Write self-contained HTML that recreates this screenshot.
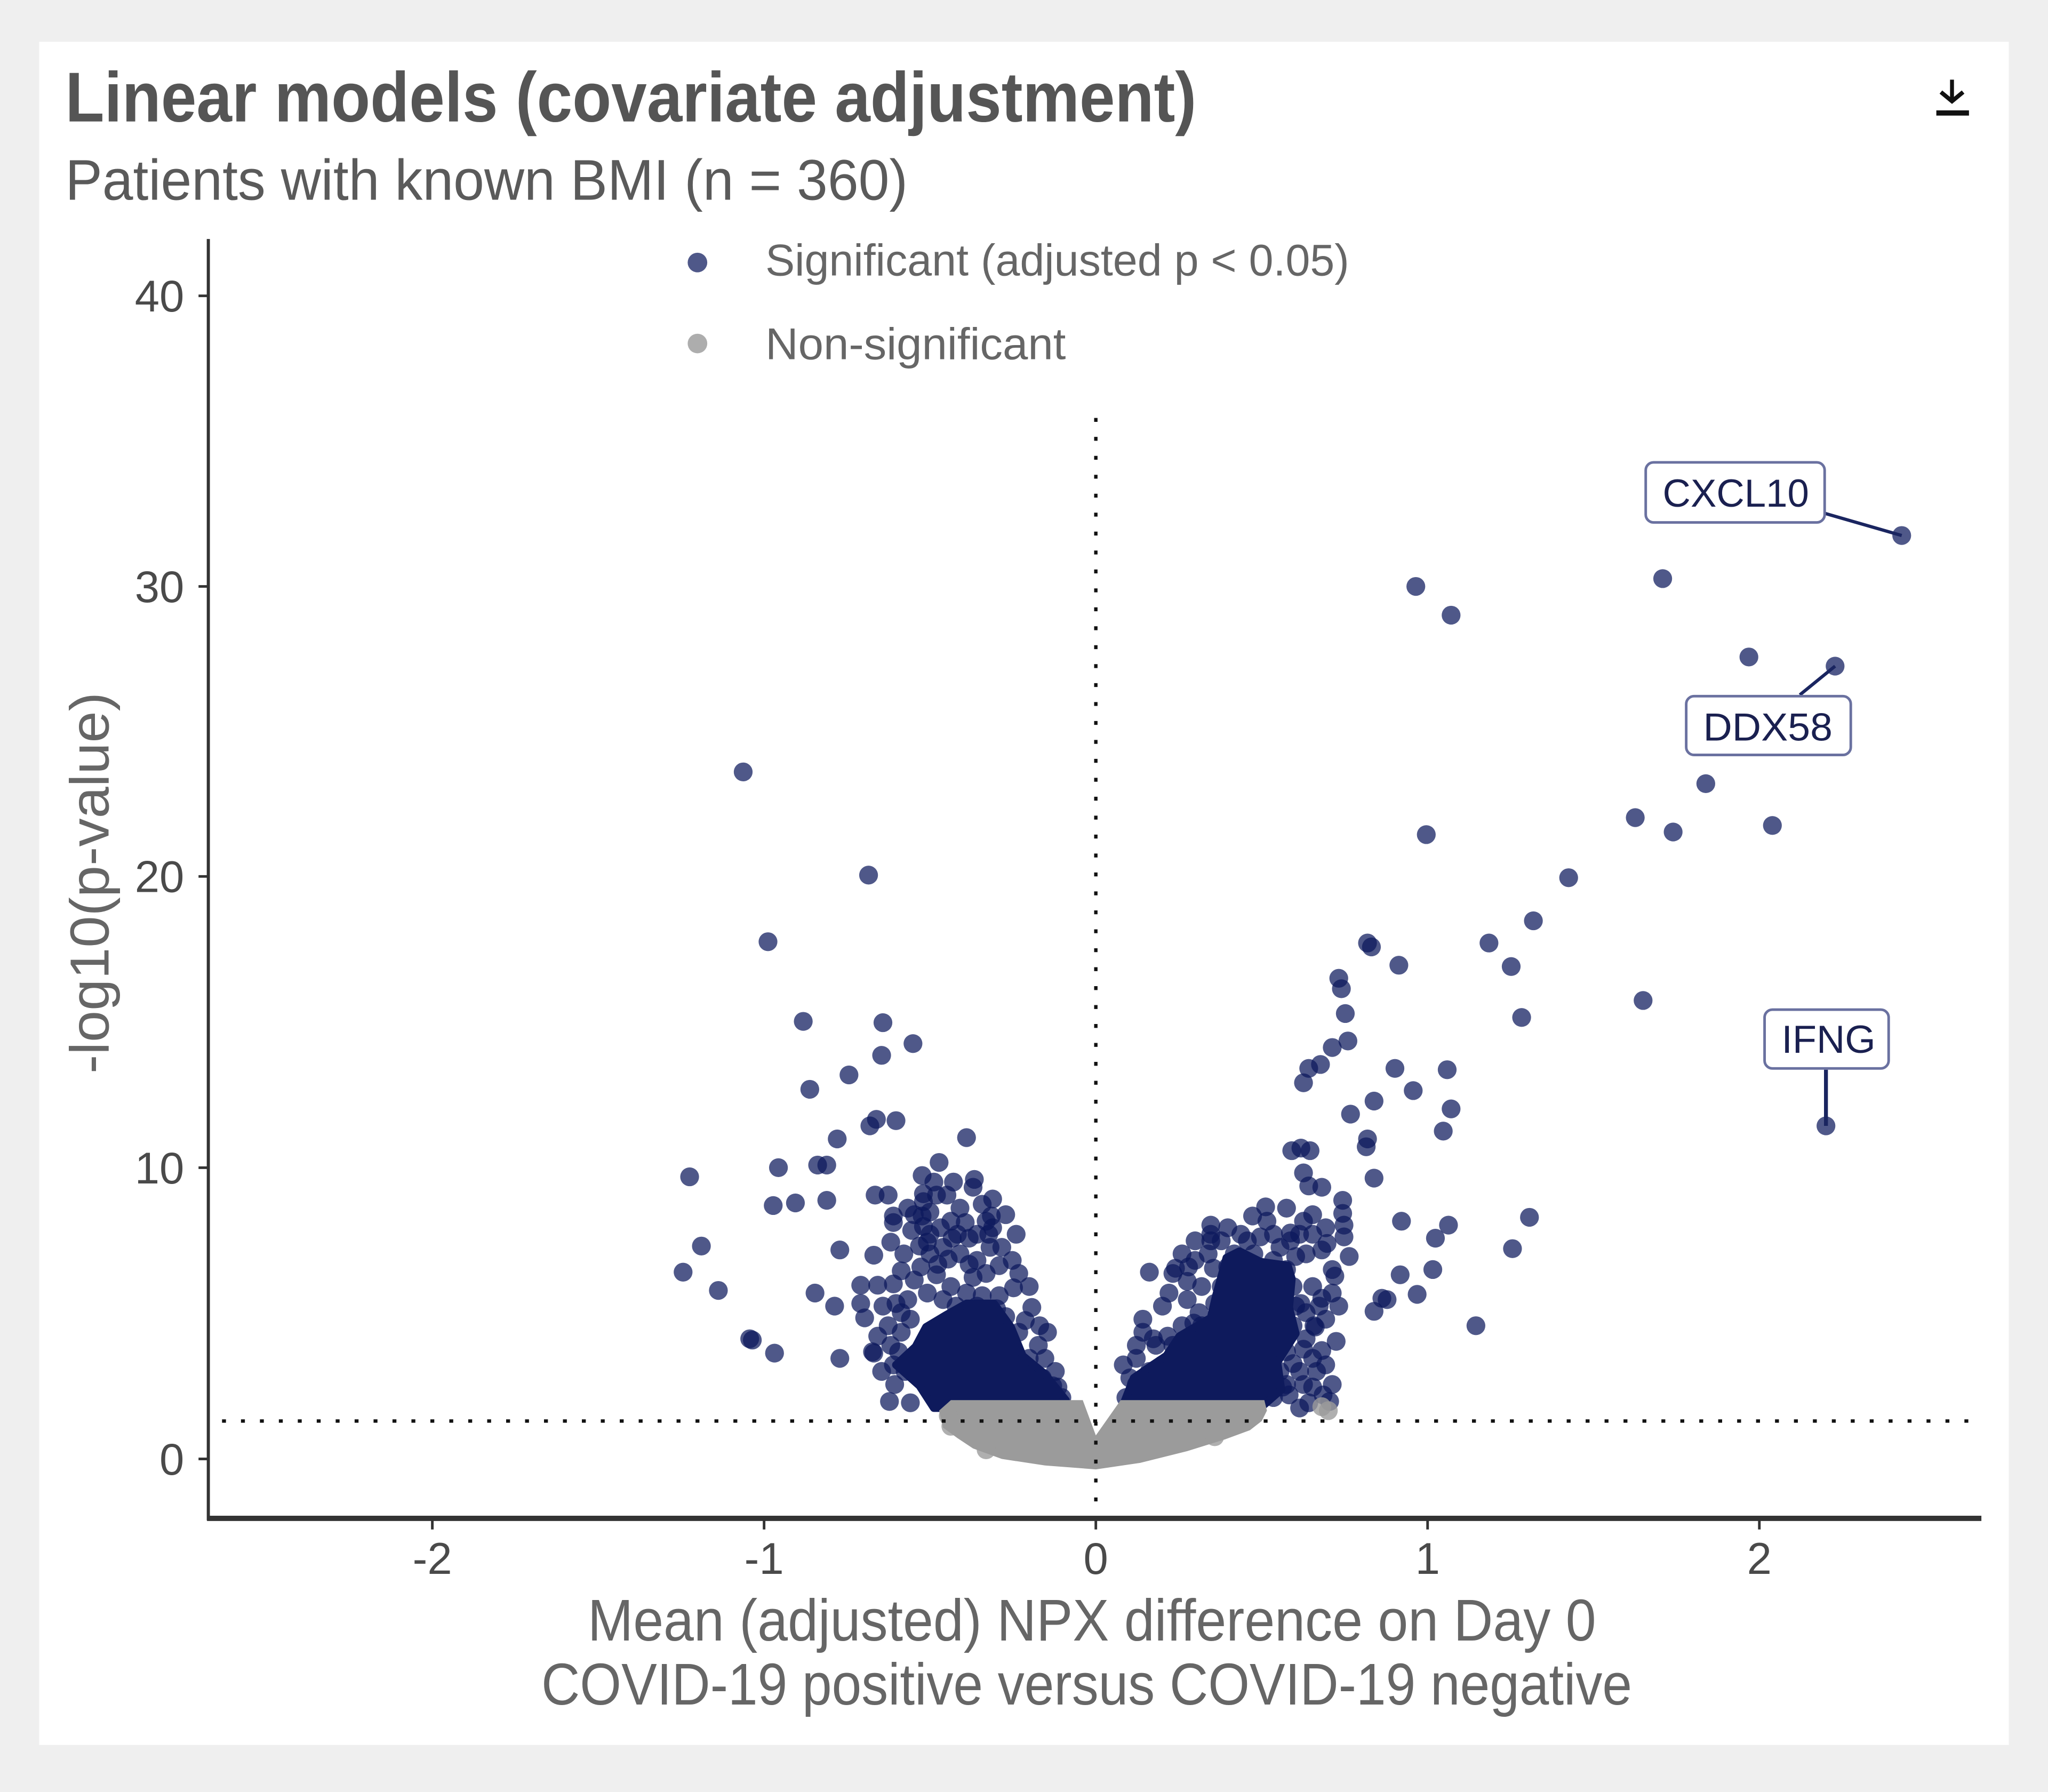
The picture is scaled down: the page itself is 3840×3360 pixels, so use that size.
<!DOCTYPE html>
<html>
<head>
<meta charset="utf-8">
<style>
html,body{margin:0;padding:0;background:#efefef;}
svg{display:block;}
text{font-family:"Liberation Sans",sans-serif;}
</style>
</head>
<body>
<svg width="3840" height="3360" viewBox="0 0 1568 1372" xmlns="http://www.w3.org/2000/svg">
<rect x="0" y="0" width="1568" height="1372" fill="#efefef"/>
<rect x="30" y="32" width="1508" height="1304" fill="#ffffff"/>

<!-- Title -->
<text x="50" y="93" font-size="54" font-weight="bold" fill="#555" textLength="866" lengthAdjust="spacingAndGlyphs">Linear models (covariate adjustment)</text>
<text x="50" y="153" font-size="44" fill="#5a5a5a" textLength="645" lengthAdjust="spacingAndGlyphs">Patients with known BMI (n = 360)</text>

<!-- download icon -->
<g fill="#111" stroke="#111">
<line x1="1494.5" y1="61" x2="1494.5" y2="76" stroke-width="3"/>
<polyline points="1486,70.5 1494.5,77.5 1503,70.5" fill="none" stroke-width="3.2"/>
<rect x="1482.5" y="84.5" width="25" height="4" stroke="none"/>
</g>

<!-- Legend -->
<circle cx="534" cy="201" r="7.5" fill="#0b175b" fill-opacity="0.72"/>
<text x="586" y="211" font-size="34" fill="#666" textLength="447" lengthAdjust="spacingAndGlyphs">Significant (adjusted p &lt; 0.05)</text>
<circle cx="534" cy="263" r="7.5" fill="#999" fill-opacity="0.8"/>
<text x="586" y="275" font-size="34" fill="#666" textLength="230" lengthAdjust="spacingAndGlyphs">Non-significant</text>

<!-- Navy points -->
<g fill="#0b175b" fill-opacity="0.72">
<circle cx="1084" cy="449" r="7.2"/><circle cx="1111" cy="471" r="7.2"/><circle cx="1273" cy="443" r="7.2"/>
<circle cx="1339" cy="503" r="7.2"/><circle cx="1405" cy="510" r="7.2"/><circle cx="1456" cy="410" r="7.2"/>
<circle cx="1306" cy="600" r="7.2"/><circle cx="1252" cy="626" r="7.2"/><circle cx="1281" cy="637" r="7.2"/>
<circle cx="1357" cy="632" r="7.2"/><circle cx="1092" cy="639" r="7.2"/><circle cx="1201" cy="672" r="7.2"/>
<circle cx="1174" cy="705" r="7.2"/><circle cx="1140" cy="722" r="7.2"/><circle cx="1157" cy="740" r="7.2"/>
<circle cx="1071" cy="739" r="7.2"/><circle cx="1165" cy="779" r="7.2"/><circle cx="1258" cy="766" r="7.2"/>
<circle cx="1398" cy="862" r="7.2"/><circle cx="1068" cy="818" r="7.2"/><circle cx="1082" cy="835" r="7.2"/>
<circle cx="1108" cy="819" r="7.2"/><circle cx="1111" cy="849" r="7.2"/><circle cx="1105" cy="866" r="7.2"/>
<circle cx="1052" cy="843" r="7.2"/><circle cx="1034" cy="853" r="7.2"/><circle cx="1047" cy="872" r="7.2"/>
<circle cx="1052" cy="902" r="7.2"/><circle cx="1073" cy="935" r="7.2"/><circle cx="1109" cy="938" r="7.2"/>
<circle cx="1099" cy="948" r="7.2"/><circle cx="1171" cy="932" r="7.2"/><circle cx="1158" cy="956" r="7.2"/>
<circle cx="1072" cy="976" r="7.2"/><circle cx="1097" cy="972" r="7.2"/><circle cx="1085" cy="991" r="7.2"/>
<circle cx="1062" cy="995" r="7.2"/><circle cx="1052" cy="1004" r="7.2"/><circle cx="1130" cy="1015" r="7.2"/>
<circle cx="1046" cy="878" r="7.2"/><circle cx="1058" cy="994" r="7.2"/>
<!-- right arm -->
<circle cx="1047" cy="722" r="7.2"/><circle cx="1050" cy="725" r="7.2"/><circle cx="1025" cy="749" r="7.2"/>
<circle cx="1027" cy="757" r="7.2"/><circle cx="1030" cy="776" r="7.2"/><circle cx="1032" cy="797" r="7.2"/>
<circle cx="1020" cy="802" r="7.2"/><circle cx="1011" cy="815" r="7.2"/><circle cx="1002" cy="818" r="7.2"/>
<circle cx="998" cy="829" r="7.2"/><circle cx="989" cy="881" r="7.2"/><circle cx="996" cy="879" r="7.2"/>
<circle cx="1003" cy="881" r="7.2"/><circle cx="998" cy="898" r="7.2"/><circle cx="1002" cy="908" r="7.2"/>
<circle cx="1012" cy="909" r="7.2"/><circle cx="1028" cy="919" r="7.2"/><circle cx="1028" cy="929" r="7.2"/>
<circle cx="1029" cy="938" r="7.2"/><circle cx="1029" cy="947" r="7.2"/><circle cx="969" cy="924" r="7.2"/>
<circle cx="959" cy="931" r="7.2"/><circle cx="927" cy="938" r="7.2"/><circle cx="927" cy="945" r="7.2"/>
<circle cx="927" cy="950" r="7.2"/><circle cx="998" cy="935" r="7.2"/><circle cx="988" cy="944" r="7.2"/>
<circle cx="988" cy="950" r="7.2"/><circle cx="965" cy="947" r="7.2"/><circle cx="1016" cy="952" r="7.2"/>
<circle cx="1012" cy="957" r="7.2"/><circle cx="1033" cy="962" r="7.2"/><circle cx="1020" cy="972" r="7.2"/>
<circle cx="1022" cy="977" r="7.2"/><circle cx="992" cy="962" r="7.2"/><circle cx="880" cy="974" r="7.2"/>
<circle cx="900" cy="971" r="7.2"/><circle cx="909" cy="981" r="7.2"/><circle cx="909" cy="995" r="7.2"/>
<circle cx="929" cy="971" r="7.2"/><circle cx="1012" cy="994" r="7.2"/><circle cx="996" cy="998" r="7.2"/>
<circle cx="1006" cy="1015" r="7.2"/><circle cx="1023" cy="1027" r="7.2"/><circle cx="1012" cy="1034" r="7.2"/>
<circle cx="998" cy="1033" r="7.2"/><circle cx="990" cy="1044" r="7.2"/><circle cx="883" cy="1025" r="7.2"/>
<circle cx="894" cy="1023" r="7.2"/><circle cx="914" cy="1013" r="7.2"/><circle cx="1007" cy="1016" r="7.2"/>
<circle cx="987" cy="1068" r="7.2"/><circle cx="995" cy="1078" r="7.2"/><circle cx="1013" cy="1068" r="7.2"/>
<circle cx="1002" cy="1074" r="7.2"/><circle cx="1018" cy="1073" r="7.2"/><circle cx="982" cy="1062" r="7.2"/>
<circle cx="975" cy="1070" r="7.2"/><circle cx="905" cy="960" r="7.2"/><circle cx="915" cy="950" r="7.2"/>
<circle cx="920" cy="985" r="7.2"/><circle cx="940" cy="940" r="7.2"/><circle cx="950" cy="945" r="7.2"/>
<circle cx="975" cy="945" r="7.2"/><circle cx="980" cy="955" r="7.2"/><circle cx="1000" cy="960" r="7.2"/>
<circle cx="1005" cy="985" r="7.2"/><circle cx="1000" cy="1005" r="7.2"/><circle cx="1000" cy="1025" r="7.2"/>
<circle cx="995" cy="1050" r="7.2"/><circle cx="1008" cy="1050" r="7.2"/><circle cx="1020" cy="1060" r="7.2"/>
<circle cx="875" cy="1010" r="7.2"/><circle cx="890" cy="1000" r="7.2"/><circle cx="895" cy="990" r="7.2"/>
<circle cx="870" cy="1030" r="7.2"/><circle cx="860" cy="1045" r="7.2"/><circle cx="870" cy="1040" r="7.2"/>
<circle cx="885" cy="1030" r="7.2"/><circle cx="905" cy="1015" r="7.2"/><circle cx="918" cy="1005" r="7.2"/>
<circle cx="935" cy="985" r="7.2"/><circle cx="945" cy="960" r="7.2"/><circle cx="960" cy="960" r="7.2"/>
<circle cx="975" cy="965" r="7.2"/><circle cx="985" cy="972" r="7.2"/><circle cx="990" cy="985" r="7.2"/>
<circle cx="992" cy="1000" r="7.2"/><circle cx="990" cy="1015" r="7.2"/><circle cx="985" cy="1035" r="7.2"/>
<circle cx="980" cy="1050" r="7.2"/><circle cx="985" cy="1060" r="7.2"/><circle cx="870" cy="1060" r="7.2"/>
<circle cx="862" cy="1070" r="7.2"/>
<circle cx="915" cy="965" r="7.2"/><circle cx="925" cy="960" r="7.2"/><circle cx="935" cy="950" r="7.2"/>
<circle cx="955" cy="950" r="7.2"/><circle cx="970" cy="935" r="7.2"/><circle cx="985" cy="925" r="7.2"/>
<circle cx="1005" cy="930" r="7.2"/><circle cx="1015" cy="940" r="7.2"/><circle cx="1005" cy="945" r="7.2"/>
<circle cx="995" cy="945" r="7.2"/><circle cx="1010" cy="1000" r="7.2"/><circle cx="1015" cy="1010" r="7.2"/>
<circle cx="1005" cy="1040" r="7.2"/><circle cx="1015" cy="1045" r="7.2"/><circle cx="998" cy="1060" r="7.2"/>
<circle cx="1005" cy="1062" r="7.2"/><circle cx="880" cy="1050" r="7.2"/><circle cx="890" cy="1045" r="7.2"/>
<circle cx="898" cy="1030" r="7.2"/><circle cx="912" cy="1025" r="7.2"/><circle cx="920" cy="1015" r="7.2"/>
<circle cx="875" cy="1020" r="7.2"/><circle cx="865" cy="1055" r="7.2"/><circle cx="898" cy="975" r="7.2"/>
<circle cx="910" cy="970" r="7.2"/><circle cx="940" cy="970" r="7.2"/><circle cx="945" cy="980" r="7.2"/>
<circle cx="930" cy="998" r="7.2"/><circle cx="1020" cy="990" r="7.2"/><circle cx="1025" cy="1000" r="7.2"/>
<!-- left outliers -->
<circle cx="569" cy="591" r="7.2"/><circle cx="665" cy="670" r="7.2"/><circle cx="588" cy="721" r="7.2"/>
<circle cx="615" cy="782" r="7.2"/><circle cx="676" cy="783" r="7.2"/><circle cx="699" cy="799" r="7.2"/>
<circle cx="675" cy="808" r="7.2"/><circle cx="650" cy="823" r="7.2"/><circle cx="620" cy="834" r="7.2"/>
<circle cx="671" cy="857" r="7.2"/><circle cx="686" cy="858" r="7.2"/><circle cx="641" cy="872" r="7.2"/>
<circle cx="740" cy="871" r="7.2"/><circle cx="528" cy="901" r="7.2"/><circle cx="596" cy="894" r="7.2"/>
<circle cx="626" cy="892" r="7.2"/><circle cx="719" cy="890" r="7.2"/><circle cx="592" cy="923" r="7.2"/>
<circle cx="609" cy="921" r="7.2"/><circle cx="633" cy="919" r="7.2"/><circle cx="537" cy="954" r="7.2"/>
<circle cx="523" cy="974" r="7.2"/><circle cx="550" cy="988" r="7.2"/><circle cx="643" cy="957" r="7.2"/>
<circle cx="669" cy="961" r="7.2"/><circle cx="624" cy="990" r="7.2"/><circle cx="639" cy="1000" r="7.2"/>
<circle cx="574" cy="1025" r="7.2"/><circle cx="576" cy="1026" r="7.2"/><circle cx="593" cy="1036" r="7.2"/>
<circle cx="643" cy="1040" r="7.2"/><circle cx="668" cy="1035" r="7.2"/><circle cx="681" cy="1073" r="7.2"/>
<circle cx="697" cy="1074" r="7.2"/><circle cx="802" cy="1020" r="7.2"/>
<!-- left arm -->
<circle cx="666" cy="862" r="7.2"/><circle cx="706" cy="900" r="7.2"/><circle cx="707" cy="914" r="7.2"/>
<circle cx="707" cy="920" r="7.2"/><circle cx="670" cy="915" r="7.2"/><circle cx="680" cy="915" r="7.2"/>
<circle cx="684" cy="931" r="7.2"/><circle cx="684" cy="936" r="7.2"/><circle cx="746" cy="903" r="7.2"/>
<circle cx="745" cy="909" r="7.2"/><circle cx="752" cy="922" r="7.2"/><circle cx="759" cy="931" r="7.2"/>
<circle cx="757" cy="945" r="7.2"/><circle cx="748" cy="945" r="7.2"/><circle cx="739" cy="936" r="7.2"/>
<circle cx="706" cy="931" r="7.2"/><circle cx="707" cy="939" r="7.2"/><circle cx="704" cy="954" r="7.2"/>
<circle cx="710" cy="951" r="7.2"/><circle cx="729" cy="948" r="7.2"/><circle cx="682" cy="951" r="7.2"/>
<circle cx="633" cy="892" r="7.2"/><circle cx="765" cy="969" r="7.2"/><circle cx="690" cy="973" r="7.2"/>
<circle cx="659" cy="984" r="7.2"/><circle cx="672" cy="984" r="7.2"/><circle cx="684" cy="983" r="7.2"/>
<circle cx="717" cy="976" r="7.2"/><circle cx="726" cy="964" r="7.2"/><circle cx="745" cy="978" r="7.2"/>
<circle cx="776" cy="986" r="7.2"/><circle cx="659" cy="998" r="7.2"/><circle cx="662" cy="1009" r="7.2"/>
<circle cx="672" cy="1023" r="7.2"/><circle cx="669" cy="1036" r="7.2"/><circle cx="686" cy="998" r="7.2"/>
<circle cx="790" cy="1001" r="7.2"/><circle cx="785" cy="1011" r="7.2"/><circle cx="806" cy="1061" r="7.2"/>
<circle cx="813" cy="1070" r="7.2"/><circle cx="712" cy="960" r="7.2"/><circle cx="722" cy="955" r="7.2"/>
<circle cx="735" cy="960" r="7.2"/><circle cx="748" cy="965" r="7.2"/><circle cx="758" cy="955" r="7.2"/>
<circle cx="700" cy="980" r="7.2"/><circle cx="710" cy="990" r="7.2"/><circle cx="728" cy="985" r="7.2"/>
<circle cx="740" cy="990" r="7.2"/><circle cx="752" cy="992" r="7.2"/><circle cx="765" cy="992" r="7.2"/>
<circle cx="697" cy="1010" r="7.2"/><circle cx="690" cy="1020" r="7.2"/><circle cx="688" cy="1035" r="7.2"/>
<circle cx="693" cy="1050" r="7.2"/><circle cx="760" cy="940" r="7.2"/><circle cx="767" cy="955" r="7.2"/>
<circle cx="775" cy="965" r="7.2"/><circle cx="780" cy="975" r="7.2"/><circle cx="788" cy="985" r="7.2"/>
<circle cx="735" cy="925" r="7.2"/><circle cx="725" cy="915" r="7.2"/><circle cx="715" cy="905" r="7.2"/>
<circle cx="760" cy="918" r="7.2"/><circle cx="770" cy="930" r="7.2"/><circle cx="778" cy="945" r="7.2"/>
<circle cx="720" cy="940" r="7.2"/><circle cx="698" cy="942" r="7.2"/><circle cx="692" cy="960" r="7.2"/>
<circle cx="676" cy="1000" r="7.2"/><circle cx="680" cy="1015" r="7.2"/><circle cx="675" cy="1050" r="7.2"/>
<circle cx="685" cy="1060" r="7.2"/><circle cx="795" cy="1030" r="7.2"/><circle cx="800" cy="1040" r="7.2"/>
<circle cx="808" cy="1050" r="7.2"/>
<circle cx="695" cy="925" r="7.2"/><circle cx="712" cy="928" r="7.2"/><circle cx="728" cy="935" r="7.2"/>
<circle cx="742" cy="948" r="7.2"/><circle cx="733" cy="945" r="7.2"/><circle cx="718" cy="968" r="7.2"/>
<circle cx="705" cy="970" r="7.2"/><circle cx="695" cy="995" r="7.2"/><circle cx="722" cy="995" r="7.2"/>
<circle cx="732" cy="1000" r="7.2"/><circle cx="748" cy="1000" r="7.2"/><circle cx="770" cy="1008" r="7.2"/>
<circle cx="763" cy="1002" r="7.2"/><circle cx="755" cy="975" r="7.2"/><circle cx="742" cy="968" r="7.2"/>
<circle cx="700" cy="930" r="7.2"/><circle cx="712" cy="945" r="7.2"/><circle cx="690" cy="1005" r="7.2"/>
<circle cx="682" cy="1030" r="7.2"/><circle cx="684" cy="1045" r="7.2"/><circle cx="796" cy="1015" r="7.2"/>
<circle cx="780" cy="1020" r="7.2"/><circle cx="788" cy="1040" r="7.2"/><circle cx="798" cy="1055" r="7.2"/>
<circle cx="810" cy="1062" r="7.2"/><circle cx="717" cy="915" r="7.2"/><circle cx="730" cy="905" r="7.2"/>
<circle cx="755" cy="935" r="7.2"/>
</g>

<!-- dense cores -->
<g fill="#0e1a5c" stroke="#0e1a5c" stroke-width="6" stroke-linejoin="round">
<polygon points="686,1045 701,1031 709,1016 724,1007 740,998 761,998 774,1016 783,1038 800,1052 816,1072 816,1078 715,1078 704,1061"/>
<polygon points="859,1078 868,1055 881,1046 893,1038 903,1023 927,1009 931,992 939,963 949,958 965,966 986,969 989,979 987,1001 992,1021 978,1043 981,1064 965,1078"/>
</g>

<!-- non-significant -->
<polygon fill="#9b9b9b" points="728,1072 829,1072 839,1099 858,1072 968,1072 970,1080 966,1088 957,1095 938,1102 909,1111 873,1120 839,1125 800,1122 767,1117 745,1109 733,1101 722,1093 719,1080"/>
<g fill="#9b9b9b" fill-opacity="0.8">
<circle cx="1017" cy="1080" r="7.2"/><circle cx="1012" cy="1077" r="7.2"/>
<circle cx="726" cy="1084" r="7.2"/><circle cx="728" cy="1092" r="7.2"/>
<circle cx="755" cy="1110" r="7.2"/><circle cx="930" cy="1100" r="7.2"/>
</g>

<!-- reference lines -->
<g stroke="#111" stroke-width="2.6" stroke-dasharray="3 11.5" fill="none">
<line x1="839" y1="320" x2="839" y2="1160"/>
<line x1="170" y1="1088" x2="1512" y2="1088"/>
</g>

<!-- axes -->
<g stroke="#333">
<line x1="159.5" y1="183" x2="159.5" y2="1164" stroke-width="2.4"/>
<line x1="158.5" y1="1162.5" x2="1517" y2="1162.5" stroke-width="4"/>
<line x1="152" y1="226.5" x2="160" y2="226.5" stroke-width="2"/>
<line x1="152" y1="449" x2="160" y2="449" stroke-width="2"/>
<line x1="152" y1="671" x2="160" y2="671" stroke-width="2"/>
<line x1="152" y1="894" x2="160" y2="894" stroke-width="2"/>
<line x1="152" y1="1117" x2="160" y2="1117" stroke-width="2"/>
<line x1="331" y1="1163" x2="331" y2="1171" stroke-width="2"/>
<line x1="585" y1="1163" x2="585" y2="1171" stroke-width="2"/>
<line x1="839" y1="1163" x2="839" y2="1171" stroke-width="2"/>
<line x1="1093" y1="1163" x2="1093" y2="1171" stroke-width="2"/>
<line x1="1347" y1="1163" x2="1347" y2="1171" stroke-width="2"/>
</g>
<g font-size="34" fill="#4a4a4a" text-anchor="end">
<text x="141" y="238.5">40</text>
<text x="141" y="461">30</text>
<text x="141" y="683">20</text>
<text x="141" y="906">10</text>
<text x="141" y="1129">0</text>
</g>
<g font-size="34" fill="#4a4a4a" text-anchor="middle">
<text x="331" y="1205">-2</text>
<text x="585" y="1205">-1</text>
<text x="839" y="1205">0</text>
<text x="1093" y="1205">1</text>
<text x="1347" y="1205">2</text>
</g>

<!-- axis titles -->
<text x="836" y="1256" text-anchor="middle" font-size="45" fill="#666" textLength="772" lengthAdjust="spacingAndGlyphs">Mean (adjusted) NPX difference on Day 0</text>
<text x="832" y="1305" text-anchor="middle" font-size="45" fill="#666" textLength="835" lengthAdjust="spacingAndGlyphs">COVID-19 positive versus COVID-19 negative</text>
<text transform="translate(83,676) rotate(-90)" text-anchor="middle" font-size="42" fill="#666" textLength="292" lengthAdjust="spacingAndGlyphs">-log10(p-value)</text>

<!-- annotation labels -->
<g stroke="#1a2560" stroke-width="2.5">
<line x1="1397" y1="393" x2="1456" y2="410"/>
<line x1="1378" y1="532" x2="1405" y2="510"/>
<line x1="1398" y1="819" x2="1398" y2="862" stroke-width="3"/>
</g>
<g fill="#ffffff" stroke="#6a71a0" stroke-width="2">
<rect x="1260" y="354" width="137" height="46" rx="6"/>
<rect x="1291" y="533" width="126" height="45" rx="6"/>
<rect x="1351" y="773" width="95" height="45" rx="6"/>
</g>
<g font-size="30" fill="#1a2050">
<text x="1273" y="388" textLength="112" lengthAdjust="spacingAndGlyphs">CXCL10</text>
<text x="1304" y="567" textLength="99" lengthAdjust="spacingAndGlyphs">DDX58</text>
<text x="1364" y="806" textLength="72" lengthAdjust="spacingAndGlyphs">IFNG</text>
</g>
</svg>
</body>
</html>
